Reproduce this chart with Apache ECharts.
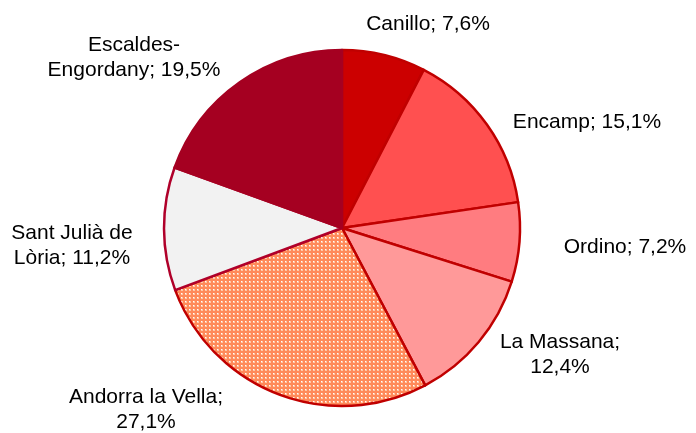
<!DOCTYPE html>
<html>
<head>
<meta charset="utf-8">
<script src="https://cdn.jsdelivr.net/npm/echarts@6/dist/echarts.min.js"></script>
<style>
html, body { margin: 0; padding: 0; background: #fff; }
#main { width: 696px; height: 433px; }
</style>
</head>
<body>
<div id="main"></div>
<script>
// parròquies d'Andorra, percentatge
var parishes = ['Canillo', 'Encamp', 'Ordino', 'La Massana', 'Andorra la Vella', 'Sant Julià de Lòria', 'Escaldes-Engordany'];
var shares = [7.6, 15.1, 7.2, 12.4, 27.1, 11.2, 19.5];
// text of each label as it is broken in the picture
var labelText = [
	'Canillo; 7,6%',
	'Encamp; 15,1%',
	'Ordino; 7,2%',
	'La Massana;\n12,4%',
	'Andorra la Vella;\n27,1%',
	'Sant Julià de\nLòria; 11,2%',
	'Escaldes-\nEngordany; 19,5%'
];

var fills = ['#cc0000', '#ff5050', '#ff7c80', '#ff9999', null, '#f2f2f2', '#a50021'];
var borders = ['#c00000', '#c00000', '#c00000', '#c00000', '#c00000', '#b0002a', '#a50021'];
// label centres
var labelAt = [[428, 24], [587, 122], [625, 247], [560, 355], [146, 410], [72, 246], [134, 58]];

// small checker tile for Andorra la Vella
function makeTile() {
	var c = document.createElement('canvas');
	c.width = 4; c.height = 4;
	var g = c.getContext('2d');
	g.fillStyle = '#ff8a5a';
	g.fillRect(0, 0, 4, 4);
	g.fillStyle = '#ffc8a8';
	g.fillRect(1, 1, 2, 2);
	g.fillStyle = '#ffffff';
	g.fillRect(1, 1, 1, 1);
	return c;
}

var myChart = echarts.init(document.getElementById('main'));
var pieData = [];
for (var i = 0; i < parishes.length; i++) {
	pieData.push({
		name: parishes[i],
		value: shares[i],
		itemStyle: {
			color: fills[i] ? fills[i] : { image: makeTile(), repeat: 'repeat' },
			borderColor: borders[i],
			borderWidth: 2.5
		}
	});
}

var option = {
	animation: false,
	series: [
		{
			type: 'pie',
			center: [342, 228],
			radius: 178,
			startAngle: 90,
			clockwise: true,
			data: pieData,
			label: {
				show: true,
				position: 'outside',
				formatter: function (p) { return labelText[p.dataIndex]; },
				fontFamily: 'Liberation Sans, Arial, sans-serif',
				fontSize: 21,
				lineHeight: 25,
				color: '#000',
				align: 'center',
				overflow: 'none'
			},
			labelLine: { show: false },
			labelLayout: function (p) {
				var xy = labelAt[p.dataIndex];
				return { x: xy[0], y: xy[1], align: 'center', verticalAlign: 'middle' };
			},
			emphasis: { disabled: true }
		}
	]
};
myChart.setOption(option);
</script>
</body>
</html>
